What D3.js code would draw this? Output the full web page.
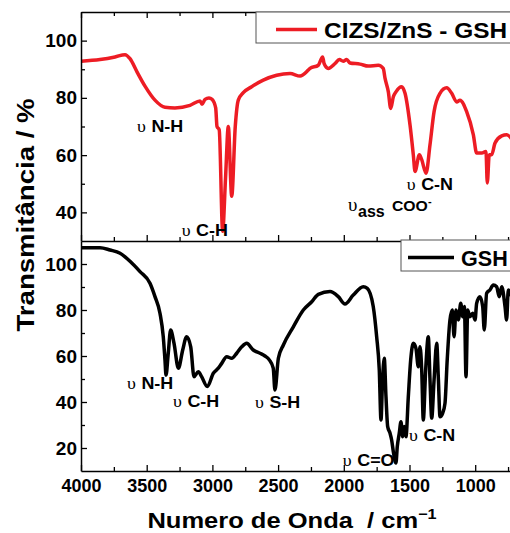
<!DOCTYPE html>
<html>
<head>
<meta charset="utf-8">
<script src="https://cdn.jsdelivr.net/npm/d3@7"></script>
<style>
body { margin: 0; background: #fff; }
svg { display: block; }
</style>
</head>
<body>
<div id="chart"></div>
<script>
/* FTIR spectra: CIZS/ZnS - GSH (top, red) and GSH (bottom, black) */

var series_names = ["CIZS/ZnS - GSH", "GSH"];

// wavenumber (cm-1) / transmittance (%)
var wn_cizs = [4000, 3855, 3741, 3665, 3627, 3574, 3513, 3437, 3361, 3285, 3170, 3094, 3079, 3056, 3026,
	3003, 2975, 2965, 2948, 2922, 2900, 2879, 2853, 2826, 2803, 2765, 2701, 2613, 2511, 2409, 2333,
	2270, 2257, 2194, 2161, 2150, 2118, 2067, 2034, 2004, 1978, 1953, 1877, 1814, 1737, 1700, 1686,
	1661, 1643, 1623, 1603, 1560, 1534, 1496, 1471, 1458, 1425, 1407, 1374, 1344, 1313, 1268, 1217,
	1179, 1141, 1116, 1065, 1014, 989, 950, 918, 908, 893, 875, 849, 798, 760, 700];
var tr_cizs = [92.8, 93.4, 94.3, 95.1, 93.7, 89.1, 84.1, 79.2, 76.7, 76.5, 77.4, 78.9, 77.8, 79.5, 80.0,
	79.5, 76.5, 70.0, 68.8, 33.4, 52.0, 70.0, 45.6, 70.0, 79.2, 81.8, 83.9, 86.2, 87.9, 88.5, 87.6,
	89.7, 90.3, 91.4, 94.3, 92.0, 90.3, 92.0, 93.4, 92.8, 93.4, 92.2, 91.8, 91.1, 91.4, 90.3, 86.8,
	82.1, 76.3, 80.4, 82.1, 83.9, 81.6, 70.5, 60.1, 54.3, 60.1, 58.4, 53.7, 63.6, 75.2, 81.6, 83.5,
	81.6, 78.6, 79.2, 75.2, 67.1, 60.7, 60.7, 61.3, 50.3, 60.1, 60.1, 64.2, 66.7, 67.1, 64.0];

var wn_gsh = [4000, 3855, 3779, 3703, 3627, 3551, 3475, 3437, 3399, 3374, 3361, 3353, 3336, 3318, 3292,
	3259, 3226, 3196, 3165, 3140, 3107, 3082, 3039, 2993, 2955, 2929, 2891, 2853, 2815, 2777, 2739,
	2689, 2638, 2600, 2567, 2537, 2524, 2498, 2460, 2384, 2308, 2244, 2194, 2105, 2042, 1991, 1928,
	1852, 1821, 1776, 1750, 1730, 1717, 1705, 1692, 1679, 1666, 1648, 1636, 1623, 1603, 1593, 1578,
	1565, 1552, 1540, 1527, 1509, 1491, 1471, 1451, 1433, 1420, 1407, 1395, 1377, 1357, 1344, 1331,
	1313, 1293, 1280, 1268, 1248, 1230, 1213, 1192, 1174, 1161, 1146, 1128, 1110, 1095, 1082, 1070,
	1057, 1040, 1019, 1001, 989, 964, 943, 931, 913, 888, 862, 837, 817, 798, 773, 761, 748, 700];
var tr_gsh = [107.1, 107.1, 106.1, 104.7, 101.2, 96.7, 91.6, 85.8, 78.6, 68.4, 58.3, 51.7, 61.2, 71.3, 65.5,
	54.7, 62.6, 68.4, 64.0, 51.0, 53.2, 51.0, 46.7, 52.5, 54.7, 56.8, 59.7, 59.0, 61.2, 64.0, 65.5,
	62.6, 61.2, 60.0, 58.3, 54.7, 45.2, 59.0, 64.8, 72.7, 80.0, 83.6, 86.8, 88.0, 85.8, 82.6, 86.5,
	90.1, 89.4, 81.5, 68.4, 53.9, 32.2, 49.6, 59.0, 42.3, 29.3, 26.4, 23.5, 18.4, 13.5, 20.6, 26.4,
	31.4, 24.9, 29.3, 24.9, 42.3, 58.3, 65.5, 63.3, 55.3, 64.0, 53.9, 32.2, 53.9, 68.4, 49.6, 33.0,
	49.6, 65.5, 49.6, 33.6, 35.1, 39.4, 58.3, 75.7, 80.0, 68.4, 80.0, 75.7, 82.9, 77.1, 81.5, 51.0,
	80.0, 77.1, 78.6, 75.7, 82.9, 85.8, 81.5, 71.3, 87.3, 88.7, 90.9, 90.1, 85.8, 90.1, 81.5, 75.7, 88.7, 80.0];

var x_ticks = [4000, 3500, 3000, 2500, 2000, 1500, 1000];
var x_minor = [3750, 3250, 2750, 2250, 1750, 1250, 750];
var y_ticks_top = [40, 60, 80, 100];
var y_minor_top = [50, 70, 90];
var y_ticks_bot = [20, 40, 60, 80, 100];
var y_minor_bot = [30, 50, 70, 90];

// band labels: [wavenumber, transmittance] where the label starts
var bands_top = [
	{ wn: 3574, t: 68.1, label: "N-H" },
	{ wn: 3234, t: 31.6, label: "C-H" },
	{ wn: 1521, t: 47.9, label: "C-N" }
];
var bands_bot = [
	{ wn: 3650, t: 45.7, label: "N-H" },
	{ wn: 3300, t: 37.8, label: "C-H" },
	{ wn: 2676, t: 37.4, label: "S-H" },
	{ wn: 2008, t: 12.2, label: "C=O" },
	{ wn: 1504, t: 23.0, label: "C-N" }
];

var W = 510, H = 533;
var left = 81, top_y = 12, mid_y = 241, bot_y = 471;
var sans = "'Liberation Sans', Arial, sans-serif";
var serif = "'Liberation Serif', 'Times New Roman', serif";
var red = "#ed1c24";

var svg = d3.select("#chart").append("svg")
	.attr("width", W)
	.attr("height", H);

var x = d3.scaleLinear().domain([4000, 700]).range([left, left + 3300 * 0.1314]);
var y_top = d3.scaleLinear().domain([30, 110]).range([mid_y, top_y]);
var y_bot = d3.scaleLinear().domain([10, 110]).range([bot_y, mid_y]);

svg.append("clipPath").attr("id", "clip_top")
  .append("rect").attr("x", left).attr("y", top_y).attr("width", 500).attr("height", mid_y - top_y);
svg.append("clipPath").attr("id", "clip_bot")
  .append("rect").attr("x", left).attr("y", mid_y).attr("width", 500).attr("height", bot_y - mid_y);

function draw_spectrum(wn, tr, yscale, color, clip)
{
	var pts = d3.zip(wn, tr);
	var line = d3.line()
		.curve(d3.curveMonotoneX)
		.x(function(d) { return x(d[0]); })
		.y(function(d) { return yscale(d[1]); });
	svg.append("path")
		.datum(pts)
		.attr("clip-path", "url(#" + clip + ")")
		.attr("d", line)
		.attr("fill", "none")
		.attr("stroke", color)
		.attr("stroke-width", 3.5)
		.attr("stroke-linejoin", "round")
		.attr("stroke-linecap", "round");
}

draw_spectrum(wn_cizs, tr_cizs, y_top, red, "clip_top");
draw_spectrum(wn_gsh, tr_gsh, y_bot, "#000", "clip_bot");

/* axes, ticks pointing inwards */
function style_axis(g, fs)
{
	g.selectAll("path").attr("stroke", "#000").attr("stroke-width", 1.5);
	g.selectAll("line").attr("stroke", "#000").attr("stroke-width", 1.3);
	g.selectAll("text")
		.attr("fill", "#000")
		.attr("font-family", sans)
		.attr("font-weight", "bold")
		.attr("font-size", fs);
}

function y_axis(scale, major, minor)
{
	var g = svg.append("g").attr("transform", "translate(" + left + ",0)")
		.call(d3.axisLeft(scale).tickValues(major).tickSizeInner(-6).tickSizeOuter(0).tickPadding(4));
	style_axis(g, 19);
	var m = svg.append("g").attr("transform", "translate(" + left + ",0)")
		.call(d3.axisLeft(scale).tickValues(minor).tickSizeInner(-4).tickSizeOuter(0).tickFormat(""));
	m.select(".domain").remove();
	style_axis(m, 0);
}

function x_axis(ypos, maker, labels)
{
	var a = maker(x).tickValues(x_ticks).tickSizeInner(-6).tickSizeOuter(0).tickPadding(8);
	if (!labels) a.tickFormat("");
	else a.tickFormat(d3.format("d"));
	var g = svg.append("g").attr("transform", "translate(0," + ypos + ")").call(a);
	style_axis(g, 18);
	var m = svg.append("g").attr("transform", "translate(0," + ypos + ")")
		.call(maker(x).tickValues(x_minor).tickSizeInner(-4).tickSizeOuter(0).tickFormat(""));
	m.select(".domain").remove();
	style_axis(m, 0);
}

y_axis(y_top, y_ticks_top, y_minor_top);
y_axis(y_bot, y_ticks_bot, y_minor_bot);
x_axis(top_y, d3.axisTop, false);
x_axis(mid_y, d3.axisBottom, false);
x_axis(bot_y, d3.axisBottom, true);

/* band labels */
function draw_bands(bands, yscale)
{
	var t = svg.selectAll(null)
		.data(bands)
	  .enter().append("text")
		.attr("transform", function(d) {
			return "translate(" + x(d.wn) + "," + yscale(d.t) + ") scale(1.12,1)"; })
		.attr("fill", "#000");
	t.append("tspan")
		.attr("font-family", serif)
		.attr("font-size", 16)
		.text("\u03c5");
	t.append("tspan")
		.attr("font-family", sans)
		.attr("font-weight", "bold")
		.attr("font-size", 16)
		.attr("dx", 5)
		.text(function(d) { return d.label; });
}
draw_bands(bands_top, y_top);
draw_bands(bands_bot, y_bot);

// the asymmetric COO- stretch in the top panel
var coo_x = x(1968), coo_y = y_top(40.6);
svg.append("text")
	.attr("x", coo_x).attr("y", coo_y)
	.attr("font-family", serif).attr("font-size", 19)
	.text("\u03c5");
svg.append("text")
	.attr("x", coo_x + 10).attr("y", coo_y + 6)
	.attr("font-family", sans).attr("font-weight", "bold").attr("font-size", 16)
	.text("ass");
svg.append("text")
	.attr("transform", "translate(" + (coo_x + 44) + "," + coo_y + ") scale(1.05,1)")
	.attr("font-family", sans).attr("font-weight", "bold").attr("font-size", 15)
	.text("COO");
svg.append("text")
	.attr("x", coo_x + 80).attr("y", coo_y - 6)
	.attr("font-family", sans).attr("font-weight", "bold").attr("font-size", 11)
	.text("-");

/* legends (boxes run past the right edge, as in the original crop) */
function legend(bx, by, bh, lx1, lx2, tx, sx, color, name)
{
	svg.append("rect")
		.attr("x", bx).attr("y", by)
		.attr("width", 300).attr("height", bh)
		.attr("fill", "#fff")
		.attr("stroke", "#555")
		.attr("stroke-width", 1);
	var cy = by + bh / 2 + 2;
	svg.append("line")
		.attr("x1", lx1).attr("x2", lx2)
		.attr("y1", cy).attr("y2", cy)
		.attr("stroke", color)
		.attr("stroke-width", 3.5);
	svg.append("text")
		.attr("transform", "translate(" + tx + "," + (cy + 8) + ") scale(" + sx + ",1)")
		.attr("font-family", sans)
		.attr("font-weight", "bold")
		.attr("font-size", 22)
		.text(name);
}
legend(256, 12, 31, 276, 317, 324, 1.11, red, series_names[0]);
legend(401, 240, 31, 408, 454, 461, 0.98, "#000", series_names[1]);

/* axis titles */
svg.append("text")
	.attr("transform", "translate(34,215) rotate(-90) scale(1.2,1)")
	.attr("text-anchor", "middle")
	.attr("font-family", sans)
	.attr("font-weight", "bold")
	.attr("font-size", 23)
	.text("Transmitância / %");

var xt = svg.append("text")
	.attr("transform", "translate(292,528) scale(1.16,1)")
	.attr("text-anchor", "middle")
	.attr("font-family", sans)
	.attr("font-weight", "bold")
	.attr("font-size", 22)
	.style("white-space", "pre");
xt.append("tspan").text("Numero de Onda  / cm");
xt.append("tspan").attr("dy", -9).attr("font-size", 14).text("\u22121");
</script>
</body>
</html>
